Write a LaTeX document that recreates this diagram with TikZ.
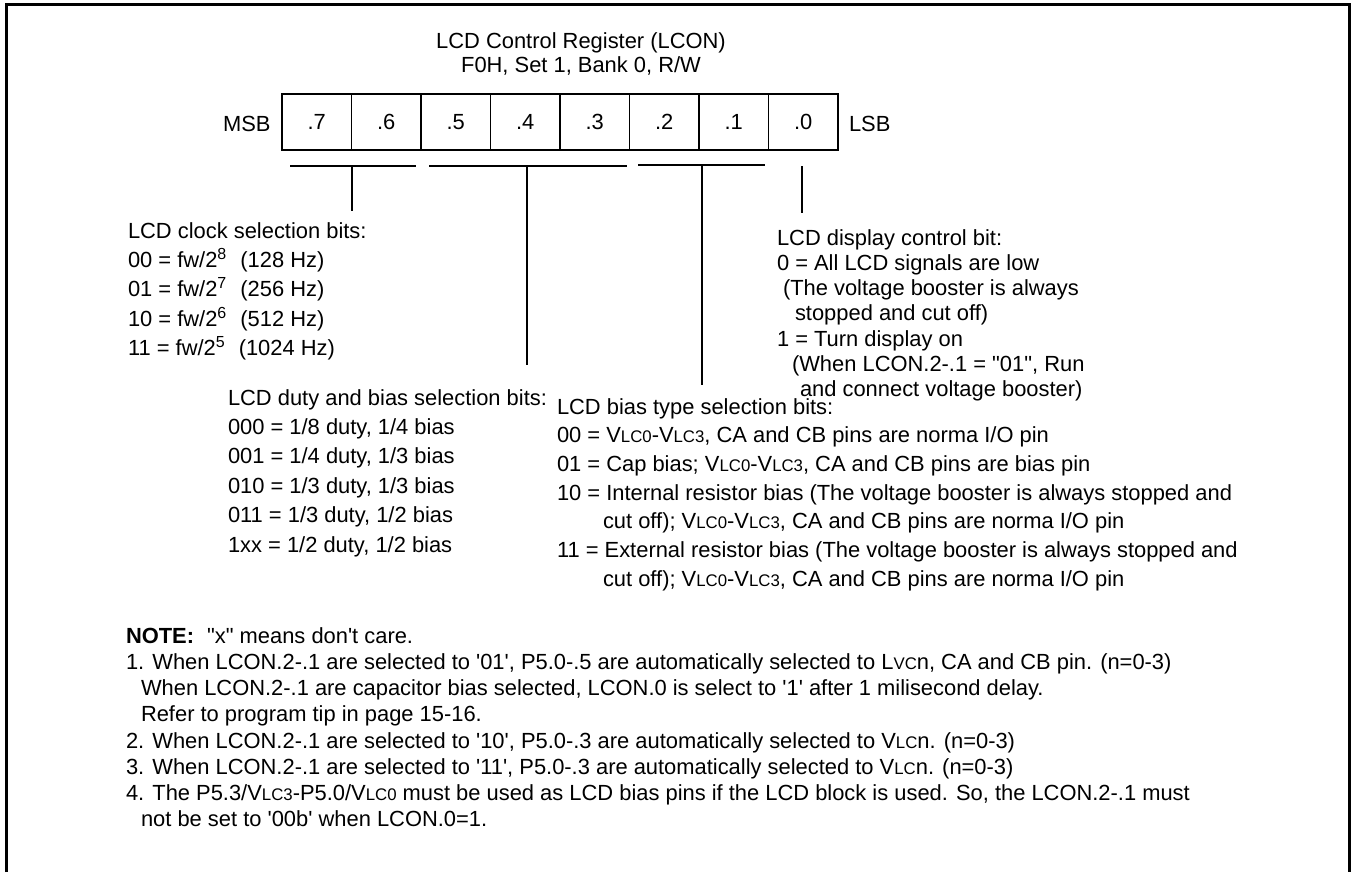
\documentclass[tikz,border=0pt]{standalone}
\usepackage{fontspec}
\newfontfamily\arialf{Liberation Sans}
\newcommand{\sm}[1]{{\fontsize{8.4}{8.4}\selectfont #1}}
\begin{document}
\begin{tikzpicture}[x=0.5pt,y=-0.5pt,
  font=\arialf\fontsize{10.95}{13}\selectfont,
  txt/.style={anchor=base west, inner sep=0pt, outer sep=0pt},
  ctr/.style={anchor=base, inner sep=0pt, outer sep=0pt},
  cell/.style={draw, line width=0.75pt, minimum width=34.75pt, minimum height=28pt, inner sep=0pt},
  frameline/.style={line width=1.3pt},
  brk/.style={line width=0.6pt}]
\useasboundingbox (0,0) rectangle (1352,872);
\draw[frameline] (6.3,872) -- (6.3,4.3) -- (1349.2,4.3) -- (1349.2,872);

% title
\node[ctr] (t1) at (581,49) {LCD Control Register (LCON)};
\node[ctr] (t2) at (581,73) {F0H, Set 1, Bank 0, R/W};

% register
\foreach \b [count=\i from 0] in {7,6,5,4,3,2,1,0}
  \node[cell] (bit\b) at ({282+69.5*(\i+0.5)},122) {.\b};
\node[anchor=base east, inner sep=0pt] (msb) at (271,131) {MSB};
\node[txt] (lsb) at (849,131) {LSB};

% brackets
\coordinate (k1l) at (290,166); \coordinate (k1r) at (416,166);
\coordinate (k1m) at (352,166); \coordinate (k1e) at (352,211);
\coordinate (k2l) at (429,166); \coordinate (k2r) at (627,166);
\coordinate (k2m) at (527,166); \coordinate (k2e) at (527,365);
\coordinate (k3l) at (638,165); \coordinate (k3r) at (765,165);
\coordinate (k3m) at (702,165); \coordinate (k3e) at (702,385);
\coordinate (k4m) at (802,166); \coordinate (k4e) at (802,213);
\draw[brk] (k1l) -- (k1r); \draw[brk] (k1m) -- (k1e);
\draw[brk] (k2l) -- (k2r); \draw[brk] (k2m) -- (k2e);
\draw[brk] (k3l) -- (k3r); \draw[brk] (k3m) -- (k3e);
\draw[brk] (k4m) -- (k4e);

% clock selection
\node[txt] (c0) at (128,238) {LCD clock selection bits:};
\node[txt] (c1) at (128,267.4) {00 = fw/2\textsuperscript{8}\hspace{6.5pt}(128 Hz)};
\node[txt] (c2) at (128,296.8) {01 = fw/2\textsuperscript{7}\hspace{6.5pt}(256 Hz)};
\node[txt] (c3) at (128,326.2) {10 = fw/2\textsuperscript{6}\hspace{6.5pt}(512 Hz)};
\node[txt] (c4) at (128,355.6) {11 = fw/2\textsuperscript{5}\hspace{6.5pt}(1024 Hz)};

% duty and bias
\node[txt] (d0) at (228,405) {LCD duty and bias selection bits:};
\node[txt] (d1) at (228,434.4) {000 = 1/8 duty, 1/4 bias};
\node[txt] (d2) at (228,463.8) {001 = 1/4 duty, 1/3 bias};
\node[txt] (d3) at (228,493.2) {010 = 1/3 duty, 1/3 bias};
\node[txt] (d4) at (228,522.6) {011 = 1/3 duty, 1/2 bias};
\node[txt] (d5) at (228,552) {1xx = 1/2 duty, 1/2 bias};

% display control
\node[txt] (e0) at (777,245) {LCD display control bit:};
\node[txt] (e1) at (777,270.3) {0 = All LCD signals are low};
\node[txt] (e2) at (783,295.6) {(The voltage booster is always};
\node[txt] (e3) at (795,320.9) {stopped and cut off)};
\node[txt] (e4) at (777,346.2) {1 = Turn display on};
\node[txt] (e5) at (792,371.5) {(When LCON.2-.1 = "01", Run};
\node[txt] (e6) at (800,396.8) {and connect voltage booster)};

% bias type
\node[txt] (f0) at (557,414) {LCD bias type selection bits:};
\node[txt] (f1) at (557,442.7) {00 = V\sm{LC0}-V\sm{LC3}, CA and CB pins are norma I/O pin};
\node[txt] (f2) at (557,471.4) {01 = Cap bias; V\sm{LC0}-V\sm{LC3}, CA and CB pins are bias pin};
\node[txt] (f3) at (557,500.1) {10 = Internal resistor bias (The voltage booster is always stopped and};
\node[txt] (f4) at (603,528.8) {cut off); V\sm{LC0}-V\sm{LC3}, CA and CB pins are norma I/O pin};
\node[txt] (f5) at (557,557.5) {11 = External resistor bias (The voltage booster is always stopped and};
\node[txt] (f6) at (603,586.2) {cut off); V\sm{LC0}-V\sm{LC3}, CA and CB pins are norma I/O pin};

% notes
\node[txt] (n0) at (126,643) {\textbf{NOTE:}\hspace{6.5pt}"x" means don't care.};
\node[txt] (n1) at (126,669) {1. When LCON.2-.1 are selected to '01', P5.0-.5 are automatically selected to L\sm{VC}n, CA and CB pin. (n=0-3)};
\node[txt] (n1b) at (141,695) {When LCON.2-.1 are capacitor bias selected, LCON.0 is select to '1' after 1 milisecond delay.};
\node[txt] (n1c) at (141,721) {Refer to program tip in page 15-16.};
\node[txt] (n2) at (126,748) {2. When LCON.2-.1 are selected to '10', P5.0-.3 are automatically selected to V\sm{LC}n. (n=0-3)};
\node[txt] (n3) at (126,774) {3. When LCON.2-.1 are selected to '11', P5.0-.3 are automatically selected to V\sm{LC}n. (n=0-3)};
\node[txt] (n4) at (126,800) {4. The P5.3/V\sm{LC3}-P5.0/V\sm{LC0} must be used as LCD bias pins if the LCD block is used. So, the LCON.2-.1 must};
\node[txt] (n4b) at (141,826) {not be set to '00b' when LCON.0=1.};
\end{tikzpicture}
\end{document}
